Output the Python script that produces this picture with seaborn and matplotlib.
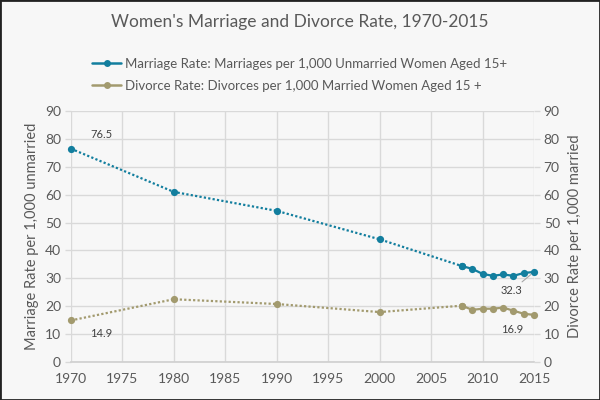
import matplotlib
matplotlib.use("Agg")
import matplotlib.pyplot as plt
import numpy as np
import pandas as pd
import seaborn as sns
from matplotlib.lines import Line2D
from matplotlib.patches import Rectangle

years = [1970, 1980, 1990, 2000, 2008, 2009, 2010, 2011, 2012, 2013, 2014, 2015]
marriage = [76.5, 61.0, 54.2, 44.0, 34.4, 33.4, 31.6, 30.9, 31.4, 30.9, 31.9, 32.3]
divorce = [14.9, 22.5, 20.8, 17.9, 20.2, 18.7, 19.1, 19.1, 19.5, 18.4, 17.3, 16.9]

title = "Women's Marriage and Divorce Rate, 1970-2015"
marriage_label = "Marriage Rate: Marriages per 1,000 Unmarried Women Aged 15+"
divorce_label = "Divorce Rate: Divorces per 1,000 Married Women Aged 15 +"

teal = "#127e9e"
khaki = "#a29a6e"
grey_txt = "#595959"
bg = "#f7f7f7"

df = pd.DataFrame({"year": years, "marriage": marriage, "divorce": divorce})
early = df[df["year"] <= 2008]
late = df[df["year"] >= 2008]

sns.set_theme(style="whitegrid")
plt.rcParams["font.family"] = ["Lato", "DejaVu Sans"]

fig = plt.figure(figsize=(6, 4), dpi=100, facecolor=bg)
ax = fig.add_axes([0.118, 0.095, 0.772, 0.6275])
ax2 = ax.twinx()
for a in (ax, ax2):
    a.set_facecolor(bg)
    a.set_ylim(0, 90)
    a.set_yticks(range(0, 91, 10))
    a.tick_params(axis="y", colors="#d9d9d9", labelcolor=grey_txt, labelsize=10,
                  length=4, width=1, pad=3)
    for s in a.spines.values():
        s.set_visible(False)
ax2.grid(False)
ax2.patch.set_visible(False)

ax.set_xlim(1970, 2015)
ax.set_xticks(range(1970, 2016, 5))
ax.tick_params(axis="x", labelcolor=grey_txt, labelsize=10, length=0, pad=8)
ax.grid(True, color="#d9d9d9", linewidth=1)
ax.spines["bottom"].set_visible(True)
ax.spines["bottom"].set_color("#d0d0d0")

ms = 5.2
# marriage on left axis
sns.lineplot(data=early, x="year", y="marriage", ax=ax, color=teal, lw=1.6,
             linestyle=(0, (1, 1)), marker="o", markersize=ms,
             markeredgewidth=0, clip_on=False)
sns.lineplot(data=late, x="year", y="marriage", ax=ax, color=teal, lw=1.6,
             marker="o", markersize=ms, markeredgewidth=0, clip_on=False)
# divorce on right axis
sns.lineplot(data=early, x="year", y="divorce", ax=ax2, color=khaki, lw=1.6,
             linestyle=(0, (1, 1)), marker="o", markersize=ms,
             markeredgewidth=0, clip_on=False)
sns.lineplot(data=late, x="year", y="divorce", ax=ax2, color=khaki, lw=1.6,
             marker="o", markersize=ms, markeredgewidth=0, clip_on=False)
ax2.set_xlim(1970, 2015)

ax.set_xlabel("")
ax.set_ylabel("Marriage Rate per 1,000 unmarried", color=grey_txt, fontsize=10.5)
ax2.set_ylabel("Divorce Rate per 1,000 married", color=grey_txt, fontsize=10.5,
               rotation=90, labelpad=6)

# data labels
lab = dict(fontsize=8, color="#404040")
ax.annotate(f"{marriage[0]}", (years[0], marriage[0]), xytext=(14, 8),
            textcoords="offset points", **lab)
ax2.annotate(f"{divorce[0]}", (years[0], divorce[0]), xytext=(14, -12),
             textcoords="offset points", **lab)
ax.annotate(f"{marriage[-1]}", (years[-1], marriage[-1]), xytext=(-24, -16),
            textcoords="offset points",
            arrowprops=dict(arrowstyle="-", color="#a6a6a6", lw=0.8,
                            shrinkA=0, shrinkB=3), **lab)
ax2.annotate(f"{divorce[-1]}", (years[-1], divorce[-1]), xytext=(-24, -13),
             textcoords="offset points", **lab)

fig.text(0.5, 0.945, title, ha="center", va="center", fontsize=12.5, color=grey_txt)

handles = [
    Line2D([], [], color=teal, lw=1.8, marker="o", markersize=5, markeredgewidth=0),
    Line2D([], [], color=khaki, lw=1.8, marker="o", markersize=5, markeredgewidth=0),
]
fig.legend(handles, [marriage_label, divorce_label], loc="upper center",
           bbox_to_anchor=(0.5, 0.885), frameon=False, fontsize=9.5,
           labelcolor=grey_txt, handlelength=2.2, handletextpad=0.3,
           labelspacing=0.75)

fig.patches.append(Rectangle((0, 0), 1, 1, transform=fig.transFigure,
                             fill=False, edgecolor="#222222", lw=2))

fig.savefig("out.png", dpi=100, facecolor=bg)
